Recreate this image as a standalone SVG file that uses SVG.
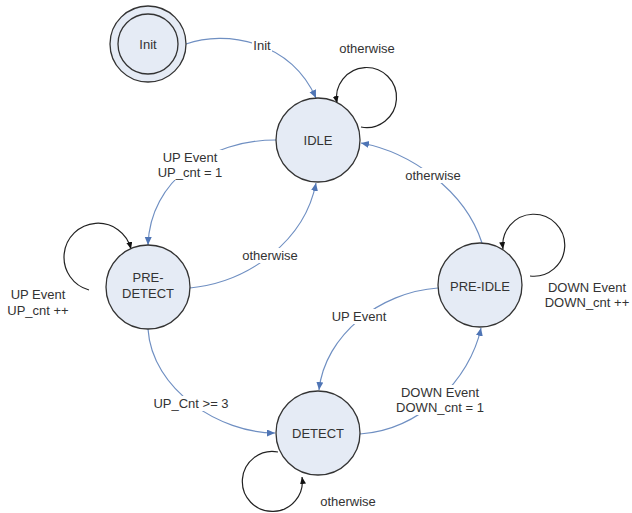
<svg xmlns="http://www.w3.org/2000/svg" width="632" height="513" viewBox="0 0 632 513">
<style>
  text { font-family: "Liberation Sans", Arial, sans-serif; font-size: 13px; fill: #333; text-anchor: middle; }
  .node { fill: #e5ebf5; stroke: #333; stroke-width: 1.3; }
  .edge { fill: none; stroke: #6f8fc2; stroke-width: 1.2; marker-end: url(#blue); }
  .loop { fill: none; stroke: #222; stroke-width: 1.2; marker-end: url(#black); }
  .bg { fill: #fff; }
</style>
<defs>
  <marker id="blue" markerUnits="userSpaceOnUse" markerWidth="10" markerHeight="8" refX="8" refY="3.5" orient="auto">
    <path d="M0,0 L8,3.5 L0,7 z" fill="#4f75b5"/>
  </marker>
  <marker id="black" markerUnits="userSpaceOnUse" markerWidth="10" markerHeight="8" refX="7" refY="3" orient="auto">
    <path d="M0,0 L7,3 L0,6 z" fill="#111"/>
  </marker>
</defs>
<rect width="632" height="513" fill="#fff"/>
<g id="connectors">
  <path class="edge" d="M186,44 C225,30 290,40 316,98"/>
  <path class="loop" d="M361,127 A30,30 0 1 0 337,103"/>
  <path class="edge" d="M276,140 C210,140 150,180 148,245"/>
  <path class="edge" d="M190,288 C250,282 305,240 316,183"/>
  <path class="loop" d="M89,290 A34,34 0 1 1 131,249"/>
  <path class="edge" d="M148,329 C152,390 220,433 275,433"/>
  <path class="edge" d="M482,243 C465,190 410,152 361,143"/>
  <path class="loop" d="M530,276 A31,31 0 1 0 503,249"/>
  <path class="edge" d="M438,288 C380,292 325,335 319,390"/>
  <path class="edge" d="M360,434 C420,430 470,380 481,328"/>
  <path class="loop" d="M278,452 A30,30 0 1 0 302,477"/>
  <rect class="bg" x="252" y="38" width="20" height="15"/>
  <text x="262" y="50">Init</text>
  <text x="367" y="53">otherwise</text>
  <rect class="bg" x="158" y="150" width="64" height="30"/>
  <text x="190" y="162">UP Event</text>
  <text x="190" y="177">UP_cnt = 1</text>
  <rect class="bg" x="242" y="248" width="57" height="15"/>
  <text x="270" y="260">otherwise</text>
  <text x="38" y="299">UP Event</text>
  <text x="38" y="315">UP_cnt ++</text>
  <rect class="bg" x="154" y="396" width="76" height="15"/>
  <text x="191" y="408">UP_Cnt &gt;= 3</text>
  <rect class="bg" x="405" y="168" width="57" height="15"/>
  <text x="433" y="180">otherwise</text>
  <text x="587" y="292">DOWN Event</text>
  <text x="587" y="307">DOWN_cnt ++</text>
  <rect class="bg" x="332" y="309" width="55" height="15"/>
  <text x="359" y="321">UP Event</text>
  <rect class="bg" x="398" y="385" width="84" height="30"/>
  <text x="440" y="397">DOWN Event</text>
  <text x="440" y="412">DOWN_cnt = 1</text>
  <text x="348" y="506">otherwise</text>
</g>
<g id="init">
  <circle class="node" cx="148" cy="44" r="38"/>
  <circle class="node" cx="148" cy="44" r="30"/>
  <text x="148" y="49">Init</text>
</g>
<g id="idle">
  <circle class="node" cx="318" cy="140" r="42"/>
  <text x="318" y="145">IDLE</text>
</g>
<g id="pre-detect">
  <circle class="node" cx="148" cy="287" r="42"/>
  <text x="148" y="282">PRE-</text>
  <text x="148" y="298">DETECT</text>
</g>
<g id="pre-idle">
  <circle class="node" cx="480" cy="285" r="42"/>
  <text x="480" y="291">PRE-IDLE</text>
</g>
<g id="detect">
  <circle class="node" cx="318" cy="433" r="42"/>
  <text x="318" y="438">DETECT</text>
</g>
</svg>
